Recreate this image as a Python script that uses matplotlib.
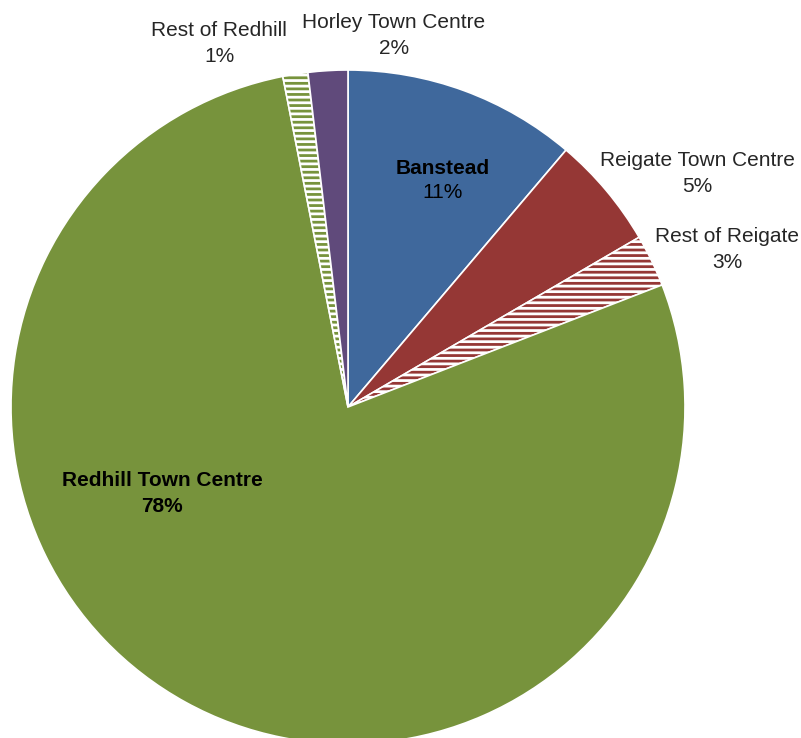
import matplotlib.pyplot as plt

plt.rcParams['font.family'] = ['Liberation Sans', 'DejaVu Sans']
plt.rcParams['hatch.linewidth'] = 2.0

# share of total, clockwise from 12 o'clock
areas = ['Banstead', 'Reigate Town Centre', 'Rest of Reigate',
         'Redhill Town Centre', 'Rest of Redhill', 'Horley Town Centre']
shares = [11.2, 5.4, 2.5, 77.8, 1.2, 1.9]
pct_labels = ['11%', '5%', '3%', '78%', '1%', '2%']

colors = ['#3F689C', '#953735', '#953735', '#77933C', '#77933C', '#604A7B']
hatched = [False, False, True, False, True, False]

# label anchor in pixel coords (x, y from top); weight of name / pct line
label_pos = [(443, 168), (697, 161), (727, 237), (162, 481), (219, 31), (394, 23)]
name_bold = [True, False, False, True, False, False]
pct_bold = [False, False, False, True, False, False]

W, H = 801, 738
fig = plt.figure(figsize=(W / 100, H / 100), dpi=100)
ax = fig.add_axes([0, 0, 1, 1])

cx, cy, r = 348, H - 407, 337
wedges, _ = ax.pie(shares, colors=colors, startangle=90, counterclock=False,
                   center=(cx, cy), radius=r, frame=True,
                   wedgeprops=dict(edgecolor='white', linewidth=1.2))
ax.set_xlim(0, W)
ax.set_ylim(0, H)
ax.set_aspect('equal')
ax.axis('off')

for w, h, c in zip(wedges, hatched, colors):
    if h:
        w.set_facecolor(c)
        w.set_edgecolor('white')
        w.set_hatch('---')

for name, pct, (x, y), b1, b2 in zip(areas, pct_labels, label_pos, name_bold, pct_bold):
    col = '#000000' if b1 else '#262626'
    ax.text(x, H - y, name, ha='center', va='center', fontsize=15,
            fontweight='bold' if b1 else 'normal', color=col)
    ax.text(x, H - y - 25, pct, ha='center', va='center', fontsize=15,
            fontweight='bold' if b2 else 'normal', color=col)

fig.savefig('out.png', dpi=100, facecolor='white')
